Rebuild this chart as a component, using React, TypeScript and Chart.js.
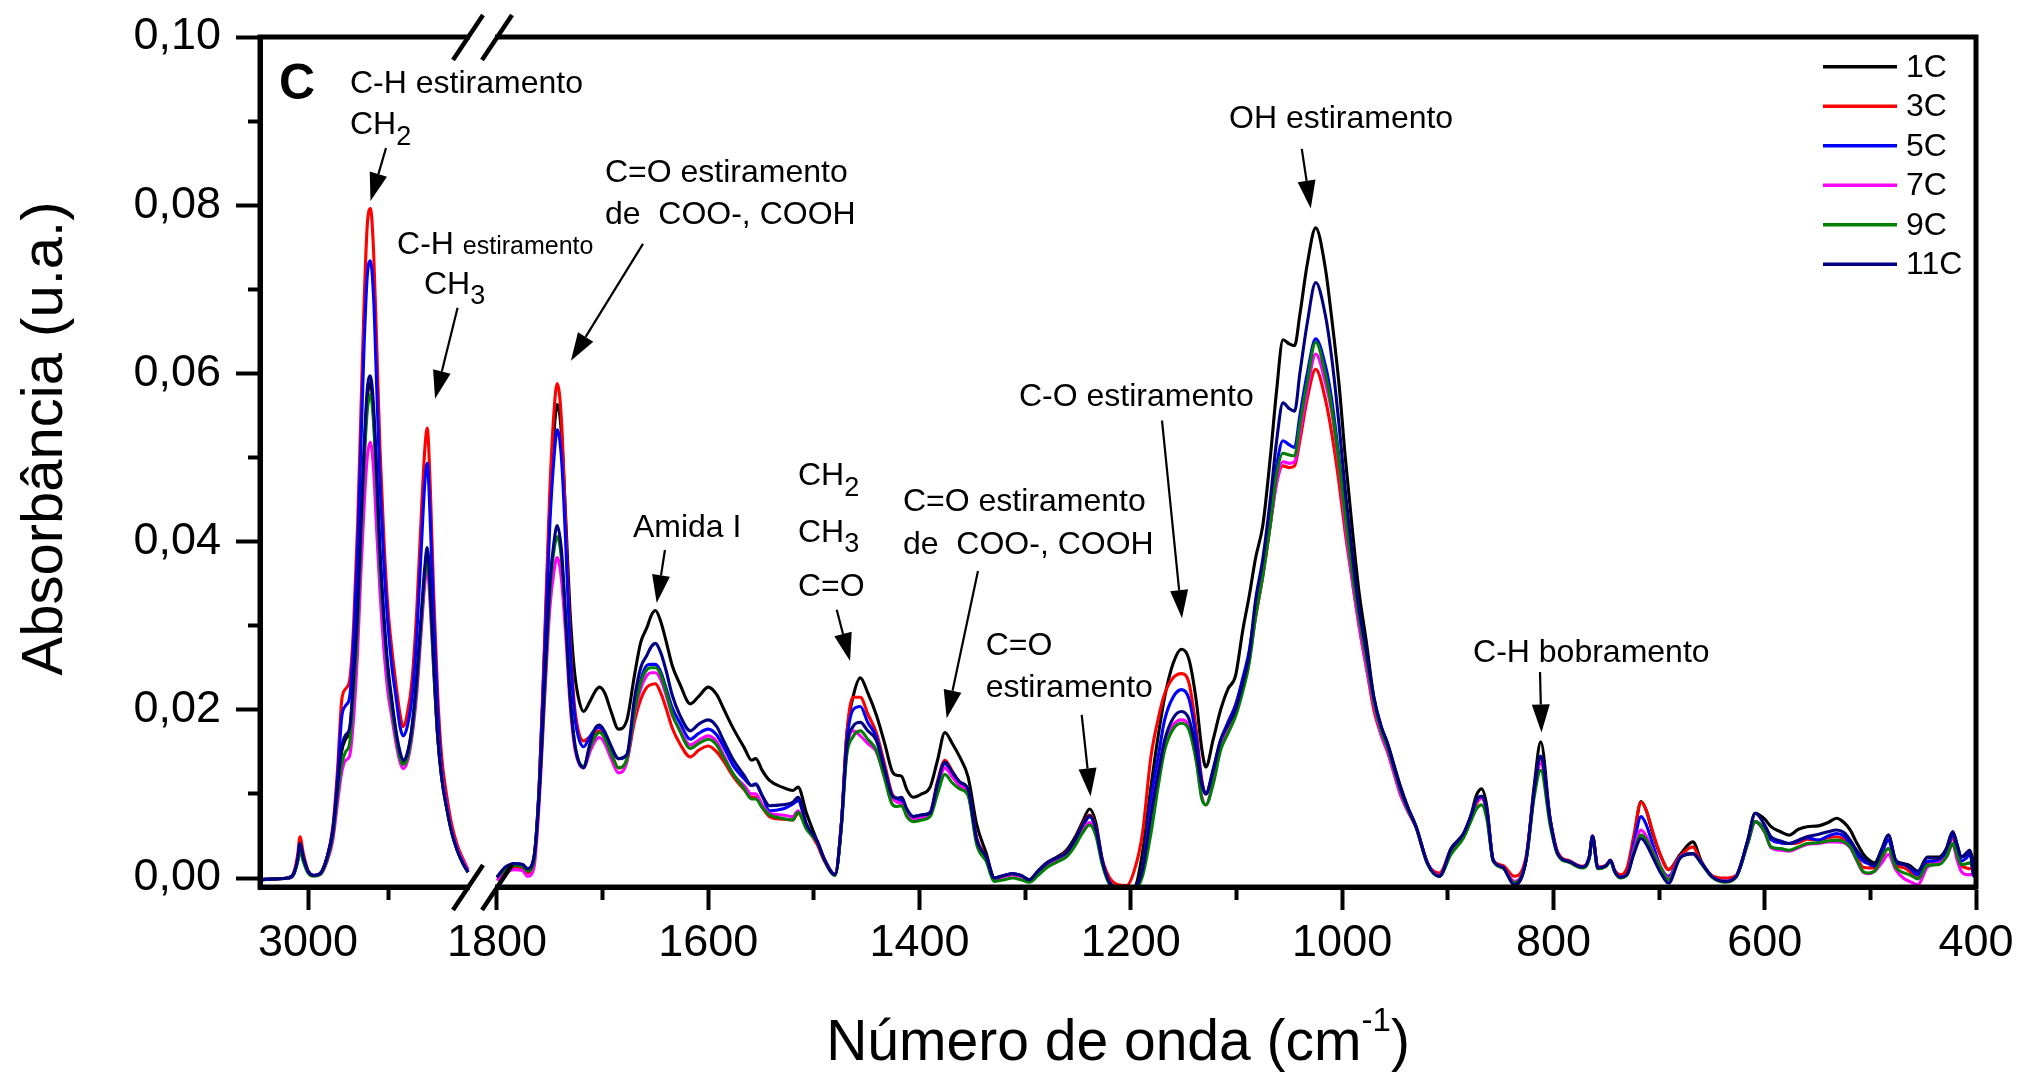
import React, { useEffect, useRef } from 'react';
import { Chart, registerables } from 'chart.js';

Chart.register(...registerables);

const FONT = '"Liberation Sans", Arial, Helvetica, sans-serif';

// ---------- data: left segment (C-H region) ----------
const waveLeft = [3060, 3040, 3025, 3018, 3013, 3010, 3006, 3000, 2993, 2985,
  2976, 2969, 2963, 2958, 2953, 2948, 2943, 2938, 2934, 2930,
  2926, 2922, 2918, 2914, 2910, 2905, 2900, 2895, 2890, 2885,
  2881, 2876, 2870, 2864, 2858, 2854, 2851, 2847, 2843, 2838,
  2833, 2827, 2820, 2813, 2806, 2800];

const abs1C_L = [-0.0002, -0.0001, 0.0, 0.0005, 0.0022, 0.004, 0.0025, 0.0008, 0.0003, 0.0005,
  0.0025, 0.0055, 0.0105, 0.015, 0.0165, 0.0175, 0.023, 0.031, 0.041, 0.05,
  0.057, 0.0588, 0.055, 0.047, 0.038, 0.030, 0.0245, 0.0205, 0.017, 0.0147,
  0.0137, 0.0145, 0.0178, 0.0235, 0.031, 0.036, 0.0388, 0.034, 0.026, 0.017,
  0.012, 0.0085, 0.0053, 0.0032, 0.0017, 0.0007];
const abs3C_L = [-0.0002, -0.0001, 0.0, 0.0006, 0.0027, 0.0049, 0.003, 0.0009, 0.0003, 0.0005,
  0.0025, 0.006, 0.013, 0.021, 0.0225, 0.0235, 0.03, 0.042, 0.055, 0.068,
  0.0775, 0.0796, 0.0745, 0.063, 0.051, 0.04, 0.032, 0.027, 0.023, 0.0195,
  0.018, 0.0195, 0.0235, 0.032, 0.044, 0.051, 0.0535, 0.046, 0.034, 0.022,
  0.0145, 0.01, 0.0062, 0.0038, 0.0022, 0.001];
const abs5C_L = [-0.0002, -0.0001, 0.0, 0.0005, 0.0022, 0.0041, 0.0025, 0.0008, 0.0003, 0.0005,
  0.0025, 0.0058, 0.012, 0.019, 0.0205, 0.0215, 0.028, 0.039, 0.051, 0.063,
  0.0715, 0.0734, 0.069, 0.058, 0.047, 0.037, 0.03, 0.025, 0.0215, 0.018,
  0.0169, 0.018, 0.0215, 0.029, 0.04, 0.047, 0.0493, 0.042, 0.031, 0.02,
  0.013, 0.009, 0.0053, 0.0032, 0.0017, 0.0007];
const abs7C_L = [-0.0002, -0.0001, 0.0, 0.0004, 0.002, 0.0036, 0.0022, 0.0007, 0.0003, 0.0004,
  0.002, 0.0045, 0.009, 0.0125, 0.014, 0.0145, 0.019, 0.027, 0.036, 0.044,
  0.05, 0.0518, 0.0485, 0.041, 0.034, 0.027, 0.022, 0.019, 0.016, 0.0138,
  0.013, 0.0138, 0.0168, 0.022, 0.03, 0.035, 0.037, 0.032, 0.025, 0.017,
  0.0125, 0.009, 0.0056, 0.0035, 0.002, 0.0009];
const abs9C_L = [-0.0002, -0.0001, 0.0, 0.0004, 0.0019, 0.0033, 0.002, 0.0006, 0.0002, 0.0004,
  0.0022, 0.005, 0.01, 0.0135, 0.015, 0.016, 0.022, 0.03, 0.04, 0.049,
  0.0555, 0.0575, 0.054, 0.046, 0.037, 0.03, 0.024, 0.02, 0.0168, 0.0143,
  0.0135, 0.0142, 0.0173, 0.023, 0.031, 0.036, 0.0381, 0.033, 0.025, 0.017,
  0.012, 0.0085, 0.0053, 0.0032, 0.0017, 0.0007];
const abs11C_L = [-0.0002, -0.0001, 0.0, 0.0005, 0.0022, 0.0041, 0.0025, 0.0008, 0.0003, 0.0005,
  0.0025, 0.0055, 0.011, 0.0155, 0.017, 0.0178, 0.024, 0.032, 0.042, 0.051,
  0.058, 0.0597, 0.056, 0.048, 0.039, 0.031, 0.025, 0.021, 0.0175, 0.015,
  0.014, 0.0148, 0.018, 0.024, 0.032, 0.037, 0.0393, 0.034, 0.026, 0.017,
  0.012, 0.0085, 0.0053, 0.0032, 0.0017, 0.0007];

// ---------- data: right segment (fingerprint region) ----------
const waveRight = [1800, 1792, 1784, 1776, 1771, 1765, 1760, 1755, 1750, 1746,
  1743, 1739, 1735, 1731, 1727, 1723, 1718, 1712, 1707, 1703,
  1698, 1692, 1685, 1677, 1670, 1664, 1658, 1654, 1650, 1645,
  1640, 1634, 1627, 1617, 1609, 1600, 1592, 1585, 1576, 1566,
  1559, 1555, 1549, 1542, 1530, 1520, 1515, 1507, 1497, 1490,
  1480, 1474, 1469, 1463, 1456, 1449, 1441, 1433, 1426, 1421,
  1417, 1412, 1406, 1398, 1390, 1383, 1376, 1369, 1362, 1354,
  1346, 1337, 1329, 1320, 1312, 1304, 1296, 1288, 1280, 1270,
  1261, 1253, 1246, 1239, 1233, 1227, 1220, 1212, 1204, 1196,
  1189, 1181, 1174, 1168, 1160, 1152, 1145, 1138, 1133, 1129,
  1122, 1115, 1108, 1101, 1094, 1088, 1082, 1075, 1068, 1062,
  1056, 1050, 1045, 1040, 1033, 1025, 1016, 1010, 1003, 997,
  990, 984, 977, 970, 963, 957, 951, 945, 938, 930,
  919, 908, 897, 885, 878, 873, 868, 863, 857, 848,
  837, 826, 818, 812, 803, 796, 784, 773, 766, 763,
  758, 750, 746, 742, 737, 730, 724, 717, 712, 706,
  698, 691, 680, 668, 660, 650, 638, 627, 616, 609,
  600, 594, 585, 577, 568, 560, 549, 540, 532, 525,
  519, 513, 507, 502, 496, 489, 483, 476, 468, 463,
  455, 446, 435, 428, 422, 418, 414, 409, 406, 402, 400];

const abs1C_R = [0.0001, 0.0012, 0.0017, 0.0016, 0.0011, 0.0025, 0.011, 0.027, 0.044, 0.053,
  0.0563, 0.053, 0.043, 0.032, 0.025, 0.0215, 0.0198, 0.021, 0.0222, 0.0227,
  0.022, 0.0198, 0.0177, 0.0188, 0.024, 0.028, 0.0298, 0.0312, 0.0318, 0.0305,
  0.0282, 0.0252, 0.0231, 0.0207, 0.0216, 0.0227, 0.0218, 0.02, 0.0177, 0.0155,
  0.014, 0.0142, 0.0128, 0.0116, 0.0108, 0.0104, 0.0108, 0.0077, 0.0044, 0.0022,
  0.0004, 0.0064, 0.0169, 0.0215, 0.0238, 0.022, 0.0194, 0.016, 0.0127, 0.0122,
  0.0121, 0.0105, 0.0096, 0.01, 0.0108, 0.014, 0.0173, 0.016, 0.0144, 0.012,
  0.0064, 0.003, 0.0, 0.0003, 0.0005, 0.0003, -0.0002, 0.0008, 0.0018, 0.0025,
  0.0033, 0.0048, 0.0066, 0.0082, 0.0065, 0.0021, -0.0005, -0.0012, -0.0013, -0.001,
  0.003, 0.0108, 0.017, 0.0215, 0.0255, 0.0272, 0.026, 0.021, 0.0155, 0.0132,
  0.0165, 0.02, 0.0225, 0.024, 0.0295, 0.0335, 0.038, 0.042, 0.05, 0.058,
  0.064, 0.0635, 0.0633, 0.067, 0.073, 0.0773, 0.0726, 0.0667, 0.0588, 0.05,
  0.041, 0.034, 0.028, 0.0215, 0.018, 0.016, 0.0135, 0.011, 0.0085, 0.0061,
  0.0017, 0.0002, 0.0035, 0.0053, 0.0075, 0.0098, 0.0106, 0.0085, 0.0021, 0.0013,
  -0.0008, 0.0021, 0.0112, 0.0162, 0.0069, 0.0029, 0.0019, 0.0013, 0.0025, 0.005,
  0.0012, 0.0015, 0.0021, 0.0008, 0.0001, 0.0005, 0.0045, 0.0091, 0.008, 0.0053,
  0.0025, 0.001, 0.0028, 0.0043, 0.002, 0.0002, -0.0004, 0.0002, 0.0045, 0.0077,
  0.007, 0.0061, 0.0055, 0.0051, 0.0058, 0.0061, 0.0062, 0.0066, 0.0071, 0.0066,
  0.0057, 0.0042, 0.0029, 0.0022, 0.0018, 0.0035, 0.0051, 0.0021, 0.0017, 0.0015,
  0.0008, 0.0025, 0.0025, 0.0035, 0.0055, 0.004, 0.0025, 0.0028, 0.0033, 0.0018, 0.0015];

const abs3C_R = [0.0, 0.0008, 0.0012, 0.0011, 0.0006, 0.002, 0.011, 0.028, 0.046, 0.0555,
  0.0588, 0.0545, 0.042, 0.029, 0.021, 0.0175, 0.0163, 0.0168, 0.0173, 0.0175,
  0.0168, 0.015, 0.0131, 0.014, 0.0185, 0.0212, 0.0227, 0.023, 0.0231, 0.022,
  0.0202, 0.0178, 0.016, 0.0144, 0.0152, 0.0157, 0.015, 0.0138, 0.012, 0.0105,
  0.0096, 0.0096, 0.0084, 0.0073, 0.007, 0.0069, 0.0077, 0.006, 0.004, 0.002,
  0.0004, 0.0064, 0.0169, 0.0215, 0.0215, 0.0195, 0.0173, 0.0135, 0.01, 0.0094,
  0.009, 0.0078, 0.0072, 0.0074, 0.0078, 0.0115, 0.014, 0.0127, 0.0114, 0.0105,
  0.0048, 0.0025, -0.0001, 0.0002, 0.0004, 0.0002, -0.0002, 0.0008, 0.0017, 0.0024,
  0.0031, 0.0045, 0.0063, 0.0075, 0.006, 0.0022, 0.0, -0.0008, -0.0009, 0.0012,
  0.0053, 0.0144, 0.019, 0.0219, 0.0238, 0.0243, 0.0232, 0.0175, 0.0118, 0.01,
  0.0125, 0.016, 0.0185, 0.0205, 0.0235, 0.0265, 0.031, 0.036, 0.042, 0.047,
  0.049, 0.0488, 0.049, 0.052, 0.057, 0.0605, 0.057, 0.053, 0.047, 0.041,
  0.035, 0.03, 0.025, 0.02, 0.017, 0.015, 0.0125, 0.01, 0.008, 0.006,
  0.0017, 0.0006, 0.0033, 0.0052, 0.0072, 0.0088, 0.0095, 0.0078, 0.0021, 0.0015,
  0.0002, 0.0025, 0.0105, 0.0142, 0.0069, 0.0031, 0.002, 0.0014, 0.0025, 0.005,
  0.0013, 0.0015, 0.0021, 0.0009, 0.0004, 0.0013, 0.005, 0.009, 0.008, 0.0055,
  0.0025, 0.001, 0.0026, 0.0037, 0.0018, 0.0003, 0.0, 0.0003, 0.0043, 0.0067,
  0.0058, 0.0046, 0.0042, 0.0041, 0.0042, 0.0046, 0.0045, 0.0048, 0.0049, 0.0046,
  0.0039, 0.0025, 0.0013, 0.0012, 0.0012, 0.0024, 0.0035, 0.0016, 0.0012, 0.0008,
  0.0, 0.0018, 0.0021, 0.003, 0.0048, 0.003, 0.0015, 0.0012, 0.0011, 0.0012, 0.0012];

const abs5C_R = [0.0001, 0.0012, 0.0017, 0.0016, 0.0011, 0.0024, 0.011, 0.026, 0.042, 0.05,
  0.0533, 0.05, 0.04, 0.028, 0.02, 0.0168, 0.0156, 0.0168, 0.0177, 0.0179,
  0.0172, 0.0155, 0.0142, 0.0146, 0.0198, 0.0235, 0.0253, 0.0254, 0.0254, 0.0245,
  0.0226, 0.0202, 0.0185, 0.0165, 0.0172, 0.0177, 0.017, 0.0155, 0.0133, 0.0118,
  0.011, 0.0112, 0.0098, 0.008, 0.0082, 0.0088, 0.0092, 0.0062, 0.0044, 0.0022,
  0.0004, 0.0064, 0.016, 0.02, 0.0204, 0.0185, 0.0168, 0.013, 0.0098, 0.0094,
  0.0092, 0.008, 0.0073, 0.0075, 0.0078, 0.0112, 0.0136, 0.0125, 0.0114, 0.0105,
  0.0046, 0.0025, 0.0, 0.0003, 0.0005, 0.0003, -0.0002, 0.0008, 0.0017, 0.0024,
  0.003, 0.0044, 0.006, 0.0073, 0.0058, 0.002, -0.0006, -0.0013, -0.0015, -0.0012,
  0.001, 0.0093, 0.0145, 0.0188, 0.0215, 0.0224, 0.0213, 0.0165, 0.0115, 0.01,
  0.013, 0.0164, 0.0185, 0.0205, 0.0238, 0.027, 0.032, 0.037, 0.043, 0.049,
  0.052, 0.0515, 0.0512, 0.055, 0.06, 0.0641, 0.061, 0.057, 0.05, 0.043,
  0.036, 0.031, 0.026, 0.021, 0.0175, 0.0155, 0.013, 0.0105, 0.0083, 0.0061,
  0.0017, 0.0002, 0.0033, 0.0053, 0.0074, 0.0092, 0.0097, 0.008, 0.0021, 0.0013,
  -0.0006, 0.0021, 0.0105, 0.0145, 0.0069, 0.0029, 0.0019, 0.0013, 0.0025, 0.005,
  0.0012, 0.0015, 0.0021, 0.0008, 0.0001, 0.0005, 0.004, 0.0073, 0.0063, 0.004,
  0.0012, 0.0002, 0.0025, 0.0029, 0.0018, 0.0002, -0.0004, 0.0002, 0.0043, 0.0067,
  0.0058, 0.0046, 0.0042, 0.0041, 0.0044, 0.0048, 0.0045, 0.005, 0.0053, 0.005,
  0.0041, 0.0029, 0.002, 0.0017, 0.0014, 0.003, 0.0045, 0.0018, 0.0016, 0.0012,
  0.0004, 0.002, 0.002, 0.003, 0.0052, 0.0035, 0.002, 0.0024, 0.0028, 0.0015, 0.0014];

const abs7C_R = [-0.0003, 0.0006, 0.001, 0.0009, 0.0002, 0.0012, 0.009, 0.021, 0.032, 0.0365,
  0.0381, 0.0355, 0.029, 0.021, 0.016, 0.0138, 0.0131, 0.015, 0.0163, 0.0167,
  0.016, 0.0142, 0.0125, 0.0138, 0.0192, 0.0225, 0.0241, 0.0244, 0.0244, 0.0236,
  0.0218, 0.0193, 0.0177, 0.0158, 0.0164, 0.0169, 0.0162, 0.0145, 0.0123, 0.011,
  0.01, 0.01, 0.0087, 0.0077, 0.0075, 0.0073, 0.008, 0.006, 0.0044, 0.0022,
  0.0004, 0.0064, 0.015, 0.0175, 0.0169, 0.016, 0.015, 0.012, 0.0095, 0.009,
  0.0088, 0.0077, 0.007, 0.0072, 0.0076, 0.0108, 0.0131, 0.012, 0.011, 0.01,
  0.0044, 0.0022, -0.0002, 0.0002, 0.0004, 0.0002, -0.0003, 0.0006, 0.0015, 0.0022,
  0.0028, 0.0042, 0.0057, 0.0066, 0.0053, 0.0018, -0.0007, -0.0013, -0.0015, -0.0012,
  0.0008, 0.0075, 0.0125, 0.0163, 0.0182, 0.0188, 0.018, 0.014, 0.0098, 0.0087,
  0.0115, 0.0155, 0.0175, 0.0195, 0.0225, 0.0258, 0.031, 0.036, 0.042, 0.047,
  0.0495, 0.0493, 0.0495, 0.053, 0.058, 0.0623, 0.059, 0.0555, 0.049, 0.042,
  0.035, 0.03, 0.025, 0.0205, 0.017, 0.015, 0.0125, 0.01, 0.008, 0.006,
  0.0017, 0.0003, 0.0032, 0.0052, 0.0073, 0.009, 0.0095, 0.0078, 0.0021, 0.0013,
  -0.0004, 0.0021, 0.0102, 0.0136, 0.0066, 0.0029, 0.0019, 0.0013, 0.0025, 0.005,
  0.0012, 0.0015, 0.0021, 0.0008, 0.0001, 0.0005, 0.0033, 0.0057, 0.0049, 0.0032,
  0.0012, 0.0, 0.0025, 0.0029, 0.0018, 0.0002, -0.0004, 0.0002, 0.0042, 0.0067,
  0.0054, 0.0036, 0.0033, 0.0032, 0.0036, 0.004, 0.0041, 0.0043, 0.0043, 0.0042,
  0.0036, 0.0021, 0.0007, 0.0005, 0.0008, 0.0018, 0.0028, 0.001, -0.0001, -0.0004,
  -0.0008, 0.0013, 0.0018, 0.0025, 0.004, 0.0022, 0.0008, 0.0004, 0.0004, 0.0004, 0.0004];

const abs9C_R = [0.0001, 0.001, 0.0015, 0.0014, 0.0008, 0.002, 0.01, 0.022, 0.034, 0.039,
  0.0406, 0.038, 0.031, 0.022, 0.0165, 0.014, 0.0133, 0.0155, 0.0168, 0.0173,
  0.0166, 0.0148, 0.0131, 0.0142, 0.0196, 0.0232, 0.0248, 0.025, 0.025, 0.0242,
  0.0222, 0.0195, 0.0175, 0.0154, 0.016, 0.0165, 0.0158, 0.0142, 0.0123, 0.0106,
  0.0094, 0.0094, 0.0084, 0.0075, 0.0071, 0.0069, 0.0078, 0.0058, 0.0043, 0.0021,
  0.0003, 0.006, 0.0145, 0.0168, 0.0175, 0.0165, 0.0152, 0.0118, 0.0088, 0.0085,
  0.0086, 0.0073, 0.0067, 0.0069, 0.0073, 0.01, 0.0123, 0.0113, 0.0106, 0.0098,
  0.004, 0.002, -0.0004, -0.0002, 0.0, -0.0002, -0.0005, 0.0003, 0.0012, 0.0019,
  0.0025, 0.0038, 0.0053, 0.0063, 0.005, 0.0016, -0.0008, -0.0014, -0.0015, -0.0013,
  0.0002, 0.0053, 0.011, 0.0152, 0.0177, 0.0184, 0.0176, 0.0138, 0.0095, 0.0087,
  0.0112, 0.0152, 0.0172, 0.0192, 0.0222, 0.0255, 0.031, 0.036, 0.042, 0.048,
  0.0505, 0.0503, 0.0502, 0.054, 0.059, 0.0637, 0.06, 0.056, 0.0495, 0.043,
  0.036, 0.031, 0.026, 0.021, 0.0175, 0.0155, 0.013, 0.0105, 0.0082, 0.006,
  0.0016, 0.0002, 0.0028, 0.0048, 0.0068, 0.0082, 0.0087, 0.007, 0.002, 0.0012,
  -0.0006, 0.002, 0.0098, 0.0128, 0.0062, 0.0028, 0.0018, 0.0012, 0.0023, 0.0048,
  0.0011, 0.0014, 0.002, 0.0007, 0.0, 0.0004, 0.003, 0.0051, 0.0045, 0.003,
  0.0011, -0.0002, 0.0024, 0.0029, 0.0017, 0.0001, -0.0005, 0.0001, 0.0041, 0.0067,
  0.0055, 0.0037, 0.0035, 0.0033, 0.0037, 0.0041, 0.0042, 0.0044, 0.0045, 0.0043,
  0.0037, 0.0022, 0.0008, 0.0006, 0.0008, 0.0025, 0.0035, 0.0013, 0.0006, 0.0004,
  -0.0001, 0.0015, 0.0016, 0.0025, 0.0041, 0.0028, 0.0016, 0.0017, 0.0018, 0.0012, 0.0012];

const abs11C_R = [0.0001, 0.0013, 0.0017, 0.0016, 0.0011, 0.0024, 0.01, 0.023, 0.035, 0.04,
  0.0419, 0.039, 0.031, 0.022, 0.0165, 0.014, 0.0131, 0.016, 0.0178, 0.0182,
  0.0174, 0.0157, 0.0142, 0.0147, 0.0212, 0.025, 0.0265, 0.0275, 0.0279, 0.0268,
  0.0247, 0.0217, 0.0194, 0.0175, 0.0183, 0.0188, 0.018, 0.0162, 0.014, 0.0122,
  0.011, 0.0111, 0.0098, 0.0086, 0.0087, 0.009, 0.0096, 0.0064, 0.0044, 0.0022,
  0.0004, 0.0064, 0.0155, 0.018, 0.0185, 0.0175, 0.0164, 0.0128, 0.0098, 0.0095,
  0.0096, 0.0082, 0.0073, 0.0075, 0.0077, 0.0112, 0.0138, 0.0126, 0.0114, 0.0105,
  0.0046, 0.0025, 0.0, 0.0003, 0.0005, 0.0003, -0.0002, 0.0008, 0.0017, 0.0024,
  0.003, 0.0045, 0.0062, 0.0074, 0.0058, 0.002, -0.0006, -0.0013, -0.0015, -0.0012,
  0.001, 0.0075, 0.0125, 0.0164, 0.019, 0.0198, 0.0189, 0.015, 0.0112, 0.01,
  0.0128, 0.0164, 0.0182, 0.02, 0.0232, 0.0265, 0.033, 0.038, 0.045, 0.052,
  0.0565, 0.0558, 0.0555, 0.06, 0.066, 0.0708, 0.067, 0.062, 0.054, 0.046,
  0.038, 0.032, 0.027, 0.0215, 0.018, 0.016, 0.0133, 0.0108, 0.0084, 0.0061,
  0.0017, 0.0002, 0.0034, 0.0053, 0.0074, 0.0092, 0.0097, 0.008, 0.0021, 0.0013,
  -0.0008, 0.0021, 0.0106, 0.0144, 0.0068, 0.0029, 0.0019, 0.0013, 0.0025, 0.005,
  0.0012, 0.0015, 0.0021, 0.0008, 0.0001, 0.0005, 0.0028, 0.0047, 0.004, 0.0025,
  0.0005, -0.0006, 0.0024, 0.0029, 0.0018, 0.0002, -0.0004, 0.0002, 0.0045, 0.0077,
  0.0063, 0.0049, 0.0044, 0.0041, 0.0045, 0.0049, 0.0052, 0.0055, 0.0057, 0.0054,
  0.0045, 0.0033, 0.0024, 0.0019, 0.0015, 0.0035, 0.0051, 0.0021, 0.0016, 0.0013,
  0.0008, 0.0024, 0.0023, 0.0035, 0.0055, 0.004, 0.0025, 0.003, 0.0033, 0.0002, 0.001];

const seriesLabels = ['1C', '3C', '5C', '7C', '9C', '11C'];
const seriesColors = ['#000000', '#ff0000', '#0000ff', '#ff00ff', '#008000', '#000080'];
const leftSeries = [abs1C_L, abs3C_L, abs5C_L, abs7C_L, abs9C_L, abs11C_L];
const rightSeries = [abs1C_R, abs3C_R, abs5C_R, abs7C_R, abs9C_R, abs11C_R];

// axis ranges (broken wavenumber axis)
const leftRange = [2781.9, 3060];
const rightRange = [400, 1813.7];
const yRange = [-0.00107, 0.1];

const yTitle = 'Absorbância (u.a.)';
const xTitleMain = 'Número de onda (cm';
const xTitleSup = '-1';

// annotations (anchored in data units: segment, wavenumber, absorbance)
const CH2 = [{ t: 'CH' }, { t: '2', size: 27, dy: 11 }];
const CH3 = [{ t: 'CH' }, { t: '3', size: 27, dy: 10 }];
const noteTexts = [
  { seg: 'L', w: 3036.2, v: 0.0926, parts: [{ t: 'C', size: 50, bold: true }] },
  { seg: 'L', w: 2947.5, v: 0.0933, parts: [{ t: 'C-H estiramento' }] },
  { seg: 'L', w: 2947.5, v: 0.0885, parts: CH2 },
  { seg: 'L', w: 2888.7, v: 0.0742, parts: [{ t: 'C-H ' }, { t: 'estiramento', size: 25 }] },
  { seg: 'L', w: 2855, v: 0.0695, parts: CH3 },
  { seg: 'R', w: 1697.8, v: 0.0827, parts: [{ t: 'C=O estiramento' }] },
  { seg: 'R', w: 1697.8, v: 0.0778, parts: [{ t: 'de  COO-, COOH' }] },
  { seg: 'R', w: 1671.3, v: 0.0406, parts: [{ t: 'Amida I' }] },
  { seg: 'R', w: 1515.1, v: 0.0467, parts: CH2 },
  { seg: 'R', w: 1515.1, v: 0.0400, parts: CH3 },
  { seg: 'R', w: 1515.1, v: 0.0335, parts: [{ t: 'C=O' }] },
  { seg: 'R', w: 1415.7, v: 0.0436, parts: [{ t: 'C=O estiramento' }] },
  { seg: 'R', w: 1415.7, v: 0.0385, parts: [{ t: 'de  COO-, COOH' }] },
  { seg: 'R', w: 1337.4, v: 0.0265, parts: [{ t: 'C=O' }] },
  { seg: 'R', w: 1337.4, v: 0.0215, parts: [{ t: 'estiramento' }] },
  { seg: 'R', w: 1305.9, v: 0.0561, parts: [{ t: 'C-O estiramento' }] },
  { seg: 'R', w: 1107, v: 0.0892, parts: [{ t: 'OH estiramento' }] },
  { seg: 'R', w: 876.1, v: 0.0257, parts: [{ t: 'C-H bobramento' }] },
];
const noteArrows = [
  { seg: 'L', w1: 2902.5, v1: 0.0868, w2: 2921.9, v2: 0.0805 },
  { seg: 'L', w1: 2813, v1: 0.0678, w2: 2841.2, v2: 0.057 },
  { seg: 'R', w1: 1661.8, v1: 0.0754, w2: 1730, v2: 0.0615 },
  { seg: 'R', w1: 1641, v1: 0.039, w2: 1648.8, v2: 0.0327 },
  { seg: 'R', w1: 1478.4, v1: 0.0319, w2: 1465.8, v2: 0.0258 },
  { seg: 'R', w1: 1344.7, v1: 0.0365, w2: 1374.3, v2: 0.019 },
  { seg: 'R', w1: 1246.5, v1: 0.0194, w2: 1238.1, v2: 0.0097 },
  { seg: 'R', w1: 1170.5, v1: 0.0544, w2: 1151.6, v2: 0.0309 },
  { seg: 'R', w1: 1038.2, v1: 0.0867, w2: 1029.7, v2: 0.0796 },
  { seg: 'R', w1: 812.7, v1: 0.0245, w2: 811.3, v2: 0.0173 },
];

function drawParts(ctx: any, x: number, y: number, parts: any[], base: number) {
  let cx = x;
  for (const p of parts) {
    const size = p.size || base;
    ctx.font = `${p.bold ? 'bold ' : ''}${size}px ${FONT}`;
    ctx.fillText(p.t, cx, y + (p.dy || 0));
    cx += ctx.measureText(p.t).width;
  }
}

function partsWidth(ctx: any, parts: any[], base: number) {
  let w = 0;
  for (const p of parts) {
    ctx.font = `${p.bold ? 'bold ' : ''}${p.size || base}px ${FONT}`;
    w += ctx.measureText(p.t).width;
  }
  return w;
}

const decorPlugin = {
  id: 'decor',
  afterDraw(chart: any) {
    const { ctx, chartArea: ca, scales } = chart;
    const px = (seg: string, w: number) => scales[seg === 'L' ? 'xL' : 'xR'].getPixelForValue(w);
    const py = (v: number) => scales.y.getPixelForValue(v);
    ctx.save();

    // frame
    ctx.strokeStyle = '#000';
    ctx.lineWidth = 5;
    ctx.strokeRect(ca.left, ca.top, ca.right - ca.left, ca.bottom - ca.top);

    // axis break marks
    const bx = scales.xL.right;
    const half = 14.5;
    for (const yb of [ca.top, ca.bottom]) {
      ctx.fillStyle = '#fff';
      ctx.fillRect(bx - half + 2, yb - 4, 2 * half - 4, 8);
      ctx.strokeStyle = '#000';
      ctx.lineWidth = 4.5;
      for (const dx of [-half, half]) {
        ctx.beginPath();
        ctx.moveTo(bx + dx - 15, yb + 23);
        ctx.lineTo(bx + dx + 15, yb - 22);
        ctx.stroke();
      }
    }

    // annotation texts
    ctx.fillStyle = '#000';
    ctx.textAlign = 'left';
    ctx.textBaseline = 'alphabetic';
    for (const n of noteTexts) {
      drawParts(ctx, px(n.seg, n.w), py(n.v), n.parts, 32);
    }
    // arrows
    for (const a of noteArrows) {
      const x1 = px(a.seg, a.w1), y1 = py(a.v1);
      const x2 = px(a.seg, a.w2), y2 = py(a.v2);
      const ang = Math.atan2(y2 - y1, x2 - x1);
      const hl = 28, hw = 9;
      const bxh = x2 - hl * Math.cos(ang), byh = y2 - hl * Math.sin(ang);
      ctx.strokeStyle = '#000';
      ctx.lineWidth = 2.2;
      ctx.beginPath();
      ctx.moveTo(x1, y1);
      ctx.lineTo(bxh, byh);
      ctx.stroke();
      ctx.beginPath();
      ctx.moveTo(x2, y2);
      ctx.lineTo(bxh + hw * Math.sin(ang), byh - hw * Math.cos(ang));
      ctx.lineTo(bxh - hw * Math.sin(ang), byh + hw * Math.cos(ang));
      ctx.closePath();
      ctx.fill();
    }

    // legend
    const lx0 = ca.right - 153, lx1 = ca.right - 79, ltx = ca.right - 70;
    ctx.textBaseline = 'middle';
    ctx.font = `32px ${FONT}`;
    seriesLabels.forEach((lab, i) => {
      const yy = ca.top + 29.7 + i * 39.5;
      ctx.strokeStyle = seriesColors[i];
      ctx.lineWidth = 3.5;
      ctx.beginPath();
      ctx.moveTo(lx0, yy);
      ctx.lineTo(lx1, yy);
      ctx.stroke();
      ctx.fillStyle = '#000';
      ctx.fillText(lab, ltx, yy + 1);
    });

    // axis titles
    ctx.fillStyle = '#000';
    ctx.textBaseline = 'alphabetic';
    ctx.save();
    ctx.translate(62, 438.5);
    ctx.rotate(-Math.PI / 2);
    ctx.textAlign = 'center';
    ctx.font = `58px ${FONT}`;
    ctx.fillText(yTitle, 0, 0);
    ctx.restore();

    const xParts = [{ t: xTitleMain, size: 57 }, { t: xTitleSup, size: 33, dy: -29 }, { t: ')', size: 57 }];
    const tw = partsWidth(ctx, xParts, 57);
    ctx.textAlign = 'left';
    drawParts(ctx, (ca.left + ca.right) / 2 - tw / 2, ca.bottom + 173, xParts, 57);

    ctx.restore();
  },
};

export default function App() {
  const canvasRef = useRef<HTMLCanvasElement | null>(null);

  useEffect(() => {
    const datasets: any[] = [];
    seriesLabels.forEach((label, i) => {
      const common = {
        label,
        borderColor: seriesColors[i],
        backgroundColor: seriesColors[i],
        borderWidth: 3.1,
        pointRadius: 0,
        fill: false,
        cubicInterpolationMode: 'monotone',
        order: seriesLabels.length - 1 - i,
        yAxisID: 'y',
      };
      datasets.push({ ...common, xAxisID: 'xL', data: waveLeft.map((w, k) => ({ x: w, y: leftSeries[i][k] })) });
      datasets.push({ ...common, xAxisID: 'xR', data: waveRight.map((w, k) => ({ x: w, y: rightSeries[i][k] })) });
    });

    const tickFont = { family: FONT, size: 45 };
    const xGrid = (hideVals: number[]) => ({
      drawOnChartArea: false,
      drawTicks: true,
      tickLength: 23,
      tickWidth: 4,
      tickColor: (c: any) => (c.tick && hideVals.includes(c.tick.value) ? 'rgba(0,0,0,0)' : '#000'),
      tickBorderDash: (c: any) => (c.tick && Math.round(c.tick.value) % 200 !== 0 ? [10, 100] : []),
    });

    const chart = new Chart(canvasRef.current as HTMLCanvasElement, {
      type: 'line',
      data: { datasets },
      options: {
        responsive: false,
        animation: false,
        devicePixelRatio: 1,
        events: [],
        layout: { padding: { left: 0, right: 44, top: 37, bottom: 0 } },
        plugins: { legend: { display: false }, tooltip: { enabled: false }, title: { display: false } },
        scales: {
          xL: {
            type: 'linear',
            position: 'bottom',
            stack: 'wave',
            stackWeight: 222.5,
            reverse: true,
            min: leftRange[0],
            max: leftRange[1],
            ticks: {
              stepSize: 100,
              includeBounds: false,
              autoSkip: false,
              maxRotation: 0,
              minRotation: 0,
              padding: 7,
              color: '#000',
              font: tickFont,
              callback: (v: any) => (Math.round(v) === 3000 ? '3000' : ''),
            },
            grid: xGrid([2800]),
            border: { display: true, width: 5, color: '#000' },
            afterFit: (s: any) => { s.height = 185; s.paddingLeft = 0; s.paddingRight = 0; },
          },
          xR: {
            type: 'linear',
            position: 'bottom',
            stack: 'wave',
            stackWeight: 1493.5,
            reverse: true,
            min: rightRange[0],
            max: rightRange[1],
            ticks: {
              stepSize: 100,
              includeBounds: false,
              autoSkip: false,
              maxRotation: 0,
              minRotation: 0,
              padding: 7,
              color: '#000',
              font: tickFont,
              callback: (v: any) => (Math.round(v) % 200 === 0 ? String(Math.round(v)) : ''),
            },
            grid: xGrid([]),
            border: { display: true, width: 5, color: '#000' },
            afterFit: (s: any) => { s.height = 185; s.paddingLeft = 0; s.paddingRight = 0; },
          },
          y: {
            type: 'linear',
            position: 'left',
            min: yRange[0],
            max: yRange[1],
            ticks: {
              stepSize: 0.01,
              includeBounds: false,
              autoSkip: false,
              padding: 15,
              color: '#000',
              font: tickFont,
              callback: (v: any) => {
                const n = Math.round(v * 100);
                return n % 2 === 0 ? (n / 100).toFixed(2).replace('.', ',') : '';
              },
            },
            grid: {
              drawOnChartArea: false,
              drawTicks: true,
              tickLength: 24,
              tickWidth: 4,
              tickColor: '#000',
              tickBorderDash: (c: any) => (c.tick && Math.round(c.tick.value * 100) % 2 !== 0 ? [0, 12, 30] : []),
            },
            border: { display: true, width: 5, color: '#000' },
            afterFit: (s: any) => { s.width = 260; s.paddingTop = 0; s.paddingBottom = 0; },
          },
        },
      } as any,
      plugins: [decorPlugin],
    });
    return () => chart.destroy();
  }, []);

  return (
    <div style={{ position: 'fixed', left: 0, top: 0, width: 2020, height: 1072, background: '#fff' }}>
      <canvas ref={canvasRef} width={2020} height={1072} style={{ display: 'block' }} />
    </div>
  );
}
